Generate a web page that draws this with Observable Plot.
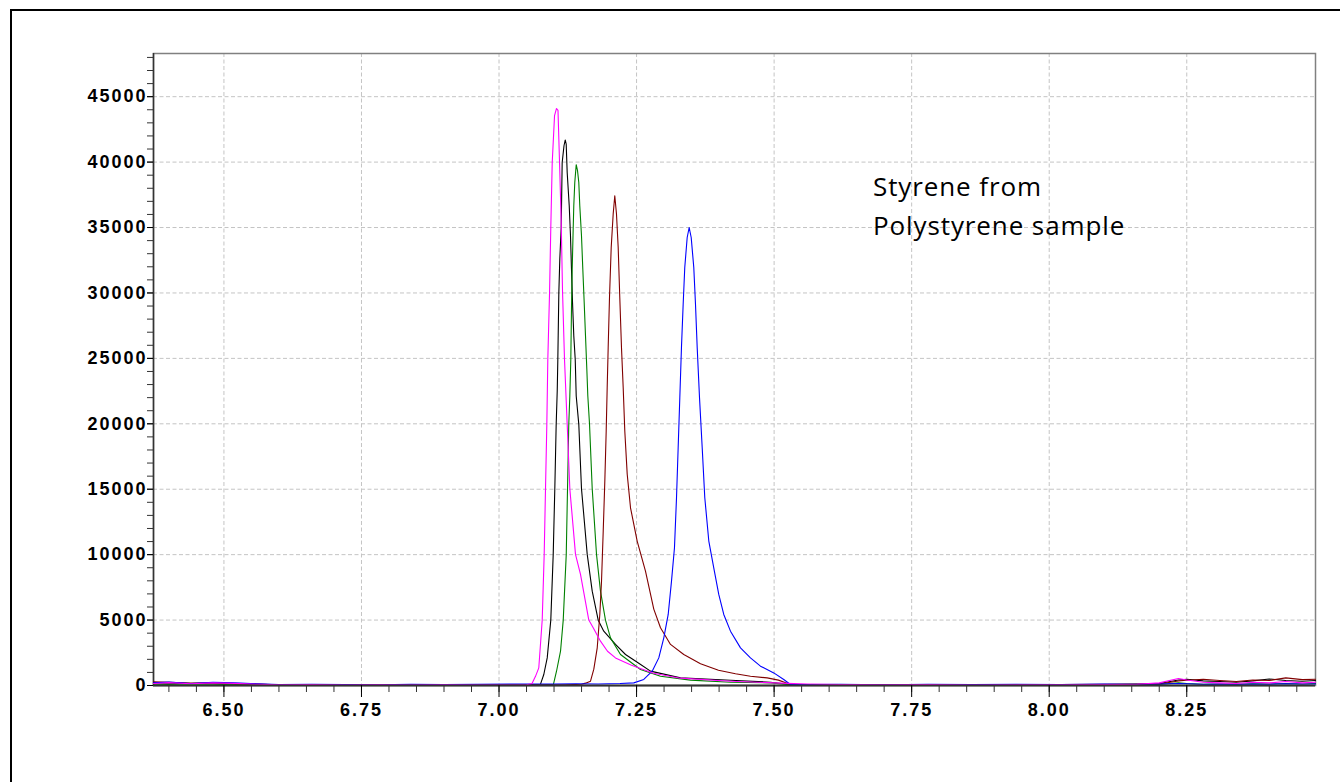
<!DOCTYPE html>
<html>
<head>
<meta charset="utf-8">
<script src="https://cdn.jsdelivr.net/npm/d3@7"></script>
<script src="https://cdn.jsdelivr.net/npm/@observablehq/plot@0.6"></script>
<style>
html, body { margin: 0; padding: 0; background: #fff; }
#wrap { position: relative; width: 1340px; height: 782px; overflow: hidden; background: #fff; }
#border { position: absolute; left: 10px; top: 9px; width: 1400px; height: 900px; border: 2px solid #000; box-sizing: border-box; }
#chart { position: absolute; left: 0; top: 0; }
</style>
</head>
<body>
<div id="wrap"><div id="border"></div><div id="chart"></div></div>
<script>
// Retention time (min) vs abundance, five overlaid runs
const magenta = [
[6.372,150],[6.40,220],[6.44,130],[6.48,200],[6.52,160],[6.56,90],[6.60,50],[6.66,70],[6.72,40],[6.78,60],[6.84,30],[6.90,50],[6.96,40],[7.02,30],[7.05,60],[7.060,150],
[7.0663,700],[7.0723,1350],[7.0785,5000],[7.0821,10020],[7.0845,15040],[7.0869,19960],[7.0887,24940],[7.0918,29950],[7.0941,34960],[7.0967,39970],[7.1009,43550],[7.1045,44100],[7.1072,43950],[7.1099,40110],[7.113,35520],[7.1154,30160],[7.119,24960],[7.1239,19960],[7.1287,15040],[7.139,10020],[7.1481,8490],[7.1632,5000],[7.1717,4380],[7.1844,3390],[7.1972,2620],[7.2117,2110],[7.2408,1550],[7.2808,940],[7.3298,560],[7.4207,330],[7.5115,180],
[7.56,120],[7.62,80],[7.70,60],[7.78,70],[7.86,40],[7.94,60],[8.02,50],[8.10,70],[8.16,100],[8.20,200],[8.235,530],[8.25,420],[8.28,250],[8.31,200],[8.34,150],[8.37,250],[8.40,200],[8.43,300],[8.46,200],[8.484,250]
];
const black = [
[6.372,200],[6.40,180],[6.44,150],[6.48,170],[6.52,120],[6.56,100],[6.60,60],[6.66,40],[6.72,60],[6.78,30],[6.84,50],[6.90,40],[6.96,60],[7.02,70],[7.06,80],
[7.0754,100],[7.0814,840],[7.0876,2110],[7.0941,4995],[7.0985,10020],[7.1014,15040],[7.1039,19960],[7.1058,22510],[7.1069,24940],[7.1087,29950],[7.1105,32610],[7.113,34960],[7.1148,39970],[7.1181,41250],[7.1203,41690],[7.1221,41380],[7.1239,39210],[7.1276,36660],[7.1299,34370],[7.1317,31840],[7.1336,29270],[7.1359,26720],[7.1385,24940],[7.1403,22130],[7.145,19960],[7.1499,15040],[7.1603,10020],[7.1694,7210],[7.1803,4995],[7.1904,4150],[7.2117,3136],[7.2299,2370],[7.254,1700],[7.2753,1100],[7.3298,580],[7.4207,400],[7.4934,250],[7.5297,80],
[7.56,60],[7.62,40],[7.70,60],[7.78,30],[7.86,50],[7.94,40],[8.02,60],[8.10,80],[8.16,100],[8.20,150],[8.235,420],[8.25,480],[8.28,350],[8.31,300],[8.34,250],[8.37,350],[8.40,500],[8.43,380],[8.46,330],[8.484,380]
];
const green = [
[6.372,100],[6.40,80],[6.44,120],[6.48,90],[6.52,60],[6.56,70],[6.60,30],[6.66,50],[6.72,20],[6.78,40],[6.84,30],[6.90,50],[6.96,20],[7.02,40],[7.08,60],
[7.099,100],[7.1045,1090],[7.1118,2620],[7.1167,4995],[7.1222,10020],[7.1245,15040],[7.1268,19960],[7.1287,22130],[7.1305,24940],[7.1317,28760],[7.133,31820],[7.1348,34880],[7.1359,36660],[7.1377,38440],[7.1403,39800],[7.1427,39340],[7.145,38440],[7.1468,36660],[7.1499,34370],[7.1523,31820],[7.1548,29270],[7.1572,26720],[7.1596,24170],[7.1614,22130],[7.1645,19960],[7.1694,15040],[7.1772,10020],[7.1844,7210],[7.1935,4995],[7.2026,3640],[7.2208,2370],[7.2571,1220],[7.2935,710],[7.348,410],[7.4207,250],[7.4934,200],[7.5243,80],
[7.56,50],[7.62,70],[7.70,40],[7.78,60],[7.86,30],[7.94,50],[8.02,40],[8.10,60],[8.16,70],[8.20,80],[8.235,200],[8.25,150],[8.28,100],[8.31,120],[8.34,90],[8.37,130],[8.40,110],[8.43,150],[8.46,120],[8.484,150]
];
const darkred = [
[6.372,280],[6.40,250],[6.44,180],[6.48,210],[6.52,140],[6.56,120],[6.60,60],[6.66,40],[6.72,70],[6.78,40],[6.84,60],[6.90,30],[6.96,50],[7.02,40],[7.08,60],[7.12,50],[7.15,100],
[7.1572,180],[7.1663,330],[7.1723,1250],[7.1785,2880],[7.1832,5430],[7.1863,7980],[7.1894,11800],[7.1923,15620],[7.1948,19450],[7.1966,22760],[7.1984,25820],[7.2008,29650],[7.2039,33470],[7.2075,36030],[7.2104,37430],[7.2135,36030],[7.2166,33470],[7.2195,29650],[7.2226,25820],[7.2257,22760],[7.2286,19450],[7.233,16140],[7.239,13580],[7.2511,11040],[7.2662,8740],[7.2813,5840],[7.2935,4410],[7.3117,3140],[7.3358,2370],[7.3662,1670],[7.3989,1170],[7.4298,900],[7.457,710],[7.4874,580],[7.5079,410],[7.5297,80],
[7.56,60],[7.62,50],[7.70,70],[7.78,40],[7.86,60],[7.94,50],[8.02,70],[8.10,90],[8.16,110],[8.20,120],[8.235,350],[8.25,400],[8.28,480],[8.31,380],[8.34,300],[8.37,420],[8.40,380],[8.43,580],[8.46,450],[8.484,480]
];
const blue = [
[6.372,200],[6.40,260],[6.44,150],[6.48,250],[6.52,200],[6.56,130],[6.60,70],[6.66,100],[6.72,80],[6.78,60],[6.84,90],[6.90,70],[6.96,100],[7.02,110],[7.06,120],[7.10,110],[7.14,130],[7.18,120],[7.22,150],
[7.245,200],[7.2631,460],[7.2784,1094],[7.2904,2111],[7.2995,3641],[7.3075,5431],[7.3135,7978],[7.3189,10525],[7.3226,14350],[7.3256,18174],[7.3286,21999],[7.3316,25823],[7.3347,29143],[7.3376,31943],[7.342,34237],[7.3456,35002],[7.3493,34237],[7.354,31943],[7.3571,29143],[7.3602,25823],[7.3644,21999],[7.3693,18174],[7.374,14350],[7.3813,11038],[7.3903,8995],[7.3994,6961],[7.4085,5431],[7.4207,4153],[7.4389,2876],[7.457,2111],[7.4752,1476],[7.4994,964],[7.5175,460],[7.5297,76],
[7.56,80],[7.62,100],[7.70,60],[7.78,90],[7.86,70],[7.94,100],[8.02,80],[8.10,110],[8.16,90],[8.20,120],[8.235,150],[8.25,130],[8.28,100],[8.31,120],[8.34,90],[8.37,110],[8.40,100],[8.43,130],[8.46,110],[8.484,120]
];

const seriesNames = ["black", "green", "darkred", "blue", "magenta"];
const seriesColors = ["#000000", "#008000", "#800000", "#0000ff", "#ff00ff"];
const seriesData = [black, green, darkred, blue, magenta];

const xTicks = [6.50, 6.75, 7.00, 7.25, 7.50, 7.75, 8.00, 8.25];
const yTicks = [0, 5000, 10000, 15000, 20000, 25000, 30000, 35000, 40000, 45000];
const xMinor = d3.range(128, 170).map(i => i / 20);
const yMinor = d3.range(0, 48001, 1000);
const xDomain = [6.372, 8.484];
const yDomain = [0, 48300];
const noteText = "Styrene from\nPolystyrene sample";

const rows = seriesData.flatMap((pts, i) => pts.map(([x, y]) => ({series: seriesNames[i], x, y})));

const tickFont = {fontSize: 18, fontWeight: "bold", fontFamily: "Liberation Sans, Arial, sans-serif"};

const chart = Plot.plot({
  width: 1340,
  height: 782,
  marginLeft: 153,
  marginRight: 25,
  marginTop: 53,
  marginBottom: 97,
  style: {background: "transparent", overflow: "visible", color: "#000"},
  x: {domain: xDomain, label: null},
  y: {domain: yDomain, label: null},
  marks: [
    Plot.gridX(xTicks, {stroke: "#c4c4c4", strokeOpacity: 1, strokeDasharray: "4,2.5"}),
    Plot.gridY(yTicks.filter(d => d > 0), {stroke: "#c4c4c4", strokeOpacity: 1, strokeDasharray: "4,2.5"}),
    Plot.frame({stroke: "#808080", strokeWidth: 1.5}),
    Plot.ruleX([xDomain[0]], {stroke: "#333", strokeWidth: 1.5}),
    ...seriesNames.map((name, i) =>
      Plot.line(rows.filter(d => d.series === name), {x: "x", y: "y", stroke: seriesColors[i], strokeWidth: 1.1})
    ),
    Plot.ruleY([yDomain[0]], {stroke: "#333", strokeWidth: 2}),
    Plot.axisY(yMinor, {tickSize: 6, tickFormat: () => "", label: null, stroke: "#333"}),
    Plot.axisY(yTicks, {tickSize: 6, tickPadding: 0, tickFormat: d => String(d), label: null, ...tickFont}),
    Plot.axisX(xMinor, {tickSize: 7, tickFormat: () => "", label: null, stroke: "#333"}),
    Plot.axisX(xTicks, {tickSize: 12, tickPadding: 6, tickFormat: d3.format(".2f"), label: null, ...tickFont}),
    Plot.text([noteText], {
      x: 7.6797, y: 39495, text: d => d, textAnchor: "start", lineAnchor: "top",
      lineHeight: 1.49, fontSize: 26, fontFamily: "Open Sans, sans-serif", fill: "#000"
    })
  ]
});

d3.select(chart).selectAll('g[aria-label="y-axis tick label"] text, g[aria-label="x-axis tick label"] text')
  .attr("letter-spacing", "2px");
d3.select(chart).selectAll('g[aria-label="text"] text').attr("letter-spacing", "0.9px");

document.getElementById("chart").appendChild(chart);
</script>
</body>
</html>
